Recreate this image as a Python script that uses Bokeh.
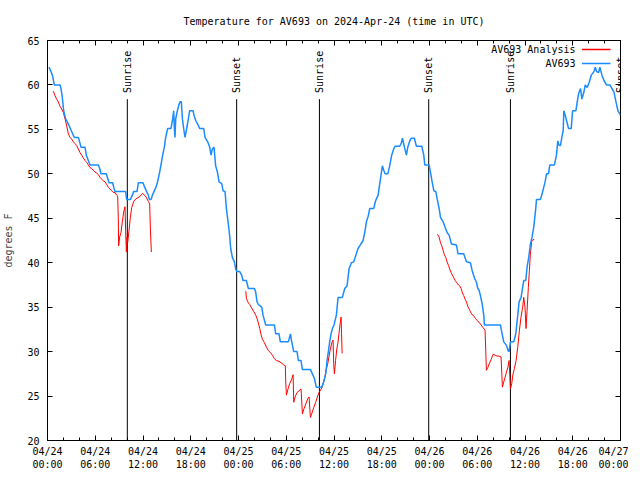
import pandas as pd
from bokeh.plotting import figure
from bokeh.core.properties import value
from bokeh.models import (ColumnDataSource, FixedTicker, DatetimeTickFormatter, DatetimeAxis,
                          LinearAxis, Range1d, LabelSet, Label, BoxAnnotation, CustomJSTickFormatter)
from bokeh.embed import file_html
from bokeh.resources import INLINE

# ---------------- data ----------------
START = pd.Timestamp("2024-04-24 00:00")
END = pd.Timestamp("2024-04-27 00:00")

# observed temperature (hours since 04/24 00:00 UTC, degrees F)
obs_hours = [0.19, 0.44, 0.61, 0.86, 1.57, 1.70, 1.86, 2.03, 2.28, 2.62, 2.87, 3.12, 3.37, 3.88, 4.04, 4.21,
             4.71, 4.88, 5.13, 5.34, 6.39, 6.56, 6.72, 7.39, 7.56, 7.73, 8.19, 8.32, 8.48, 9.82, 9.95, 10.41,
             10.66, 10.83, 11.25, 11.42, 12.00, 12.21, 12.46, 12.67, 12.80, 13.01, 13.18, 13.38, 13.63, 13.80,
             14.05, 14.26, 14.47, 14.68, 14.85, 15.10, 15.52, 15.73, 15.86, 15.94, 16.02, 16.11, 16.32, 16.49,
             16.65, 16.82, 16.95, 17.11, 17.28, 17.49, 17.70, 17.87, 18.29, 18.41, 18.62, 18.87, 19.12, 19.63,
             19.79, 20.13, 20.38, 20.55, 20.72, 20.92, 21.13, 21.35, 21.56, 21.89, 22.06, 22.31, 22.48, 22.69,
             22.85, 23.02, 23.23, 23.48, 23.65, 23.77, 24.15, 24.40, 24.57, 24.99, 25.24, 26.00, 26.16, 26.33,
             26.50, 26.92, 27.08, 27.42, 28.51, 28.68, 29.09, 29.26, 30.27, 30.52, 30.69, 30.94, 31.36, 31.52,
             31.86, 32.02, 33.03, 33.28, 33.53, 33.78, 34.46, 34.71, 34.96, 35.13, 35.29, 35.46, 35.63, 35.80,
             36.00, 36.30, 36.51, 37.05, 37.35, 37.64, 37.89, 38.18, 38.48, 38.73, 39.02, 39.31, 39.65, 39.86,
             40.07, 40.32, 40.49, 40.99, 41.24, 41.54, 41.75, 42.08, 42.25, 42.42, 42.76, 43.00, 43.25, 43.50,
             43.67, 44.26, 44.47, 44.60, 44.85, 45.10, 45.27, 45.52, 45.69, 46.10, 46.35, 47.03, 47.28, 47.41,
             47.95, 48.16, 48.33, 48.54, 48.79, 48.96, 49.21, 49.38, 49.71, 49.96, 50.21, 50.46, 50.76, 51.38,
             51.59, 52.30, 52.64, 53.14, 53.39, 53.69, 53.90, 54.07, 54.23, 54.40, 54.61, 54.82, 54.90, 56.91,
             57.08, 57.33, 57.67, 57.88, 58.00, 58.17, 58.59, 58.84, 59.09, 59.26, 59.51, 59.68, 59.85, 60.10,
             60.26, 60.47, 60.68, 60.89, 61.10, 61.35, 61.44, 61.94, 62.19, 62.36, 62.53, 62.70, 62.95, 63.12,
             63.70, 63.95, 64.12, 64.29, 64.46, 64.63, 64.80, 64.88, 65.05, 65.22, 65.47, 65.81, 65.98, 66.40,
             66.56, 66.73, 66.98, 67.15, 67.40, 67.57, 67.82, 68.07, 68.33, 68.66, 68.83, 69.00, 69.25, 69.41,
             69.67, 69.92, 70.25, 70.67, 70.92, 71.18, 71.43, 71.68, 72.00]
obs_temp = [62.0, 61.5, 61.1, 60.0, 60.0, 59.6, 58.6, 57.1, 56.2, 55.6, 55.1, 54.6, 54.1, 54.1, 53.6, 53.0,
            53.0, 52.1, 51.5, 51.0, 51.0, 50.6, 50.0, 50.0, 49.5, 49.0, 49.0, 48.5, 48.0, 48.0, 47.1, 47.1,
            47.6, 48.0, 48.0, 49.0, 49.0, 48.5, 48.0, 47.6, 47.1, 47.1, 47.6, 48.0, 48.5, 49.0,
            50.0, 51.0, 52.1, 53.0, 54.1, 55.1, 55.1, 56.2, 57.1, 55.1, 54.1, 56.2, 57.1, 57.7,
            58.1, 58.1, 56.2, 55.1, 54.1, 55.1, 56.2, 57.1, 57.1, 56.6, 56.0, 55.6, 55.1, 55.1,
            54.1, 53.6, 53.0, 52.1, 52.8, 53.0, 50.9, 50.2, 49.1, 48.9, 48.1, 48.0, 46.1, 44.6,
            43.4, 41.6, 40.6, 40.1, 39.3, 39.0, 39.0, 38.6, 38.0, 38.0, 37.1, 37.1, 36.7, 35.6,
            35.3, 35.0, 34.1, 33.0, 33.0, 32.0, 32.0, 31.1, 31.1, 32.0, 31.1, 30.0, 30.0, 29.0,
            29.0, 28.0, 28.0, 27.5, 27.0, 26.0, 26.0, 26.6, 27.5, 29.0, 30.0, 31.1, 32.0, 32.6,
            33.0, 34.1, 36.1, 36.1, 37.1, 37.4, 39.3, 40.0, 40.1, 40.8, 41.6, 42.0, 42.5, 43.4,
            44.6, 45.3, 46.1, 46.1, 47.0, 47.6, 48.9, 50.9, 50.4, 50.0, 50.0, 50.9, 52.1, 52.8,
            53.1, 53.1, 53.5, 54.0, 53.0, 52.1, 53.0, 53.7, 54.0, 54.0, 53.1, 53.1, 52.1, 51.0,
            51.0, 50.0, 49.1, 48.1, 48.0, 47.2, 46.1, 45.1, 44.6, 44.0, 43.4, 43.1, 42.1, 42.0,
            41.0, 41.0, 40.1, 40.0, 39.0, 38.2, 37.8, 37.1, 36.9, 36.3, 35.4, 34.1, 33.0, 33.0,
            32.2, 31.1, 30.7, 30.1, 30.0, 31.1, 31.1, 32.0, 34.1, 35.6, 36.1, 37.1, 38.0, 38.0,
            39.5, 40.6, 42.1, 42.9, 44.0, 46.1, 47.1, 47.1, 47.9, 48.5, 49.1, 50.0, 50.0, 51.0,
            51.0, 52.1, 53.7, 53.2, 53.2, 54.1, 54.9, 57.1, 56.6, 56.0, 55.1, 55.1, 57.1, 57.1,
            58.1, 59.0, 59.6, 58.4, 59.2, 60.0, 59.7, 60.3, 61.1, 61.5, 62.0, 61.5, 61.4, 62.0,
            61.1, 60.5, 60.0, 60.0, 59.6, 59.2, 58.1, 57.1, 56.6]

# analysis runs
ana1_hours = [0.73, 0.94, 1.15, 1.36, 1.57, 1.78, 1.99, 2.20, 2.41, 2.62, 2.83, 3.04, 3.25, 3.46, 3.66, 3.87,
              4.08, 4.29, 4.50, 4.71, 4.92, 5.13, 5.34, 5.55, 5.76, 5.97, 6.18, 6.39, 6.60, 6.81, 7.02, 7.23,
              7.43, 7.64, 7.85, 8.06, 8.27, 8.48, 8.69, 8.82, 8.90, 8.94, 9.07, 9.24, 9.40, 9.57, 9.74, 9.82,
              9.91, 9.99, 10.08, 10.24, 10.41, 10.58, 10.83, 11.12, 11.54, 11.96, 12.38, 12.67, 12.84, 12.93,
              13.05]
ana1_temp = [59.3, 58.8, 58.4, 58.1, 57.6, 57.3, 56.9, 56.2, 55.4, 54.5, 54.1, 53.9, 53.6, 53.4, 53.2, 52.8,
             52.4, 52.1, 51.8, 51.5, 51.3, 51.0, 50.7, 50.6, 50.4, 50.2, 50.1, 49.9, 49.6, 49.4, 49.2, 49.1,
             48.8, 48.5, 48.3, 48.1, 47.9, 47.9, 47.6, 47.5, 44.7, 41.9, 42.9, 43.4, 44.6, 45.7, 46.3, 43.6,
             41.2, 42.9, 42.3, 43.6, 45.1, 46.2, 46.9, 47.2, 47.4, 47.8, 47.4, 46.9, 46.6, 43.8,
             41.2]
ana2_hours = [24.91, 25.00, 25.16, 25.41, 25.66, 25.92, 26.17, 26.34, 26.50, 26.67, 26.84, 27.00, 27.26, 27.51,
              27.76, 28.01, 28.26, 28.51, 28.76, 29.09, 29.43, 29.68, 29.89, 29.93, 30.02, 30.22, 30.43, 30.69,
              30.86, 30.94, 31.11, 31.36, 31.61, 31.86, 32.03, 32.24, 32.45, 32.70, 32.87, 33.03, 33.20, 33.45,
              33.70, 33.95, 34.12, 34.46, 34.71, 34.88, 35.05, 35.21, 35.38, 35.55, 35.72, 35.88, 35.97, 36.05,
              36.20, 36.35, 36.50, 36.62, 36.75, 36.89, 36.95, 37.02]
ana2_temp = [36.8, 36.0, 35.6, 35.3, 34.9, 34.5, 34.1, 33.7, 33.2, 32.6, 31.9, 31.4, 31.0, 30.5,
             30.1, 29.9, 29.6, 29.2, 29.0, 28.9, 28.7, 28.5, 28.4, 26.7, 25.1, 25.8, 26.4, 26.9,
             27.4, 24.3, 24.9, 25.4, 25.6, 25.8, 23.0, 23.6, 24.1, 24.7, 24.9, 22.6, 23.0, 23.7,
             24.3, 25.0, 25.4, 25.9, 26.6, 27.3, 28.1, 28.6, 29.5, 30.3, 31.0, 31.3, 28.5, 27.5,
             29.0, 30.3, 31.0, 32.0, 33.0, 33.9, 32.0, 29.8]
ana3_hours = [48.99, 49.20, 49.37, 49.54, 49.71, 49.87, 50.04, 50.21, 50.38, 50.54, 50.71, 50.88, 51.05, 51.22,
              51.38, 51.64, 51.80, 51.97, 52.14, 52.30, 52.47, 52.64, 52.81, 52.98, 53.14, 53.31, 53.48, 53.65,
              53.81, 53.98, 54.23, 54.48, 54.73, 54.98, 55.07, 55.15, 55.32, 55.49, 55.74, 55.99, 56.24, 56.49,
              56.74, 56.99, 57.08, 57.16, 57.33, 57.50, 57.67, 57.84, 58.00, 58.17, 58.33, 58.50, 58.67, 58.88,
              59.09, 59.30, 59.50, 59.71, 59.84, 60.00, 60.13, 60.26, 60.42, 60.55, 60.67, 60.84, 61.00, 61.17]
ana3_temp = [43.2, 42.9, 42.3, 41.9, 41.4, 40.9, 40.6, 40.1, 39.7, 39.3, 38.9, 38.6, 38.3, 38.0,
             37.8, 37.5, 37.4, 37.1, 36.6, 36.3, 35.9, 35.6, 35.1, 34.8, 34.5, 34.2, 34.1, 33.9,
             33.7, 33.5, 33.3, 33.0, 32.7, 32.4, 30.1, 27.9, 28.2, 28.6, 29.1, 29.7, 29.6, 29.5,
             29.5, 29.4, 27.7, 26.0, 26.6, 27.1, 27.7, 28.2, 29.0, 25.8, 26.4, 27.5, 28.1, 29.0,
             30.5, 32.4, 33.9, 35.0, 36.1, 35.0, 32.6, 34.6, 37.2, 39.1, 40.9, 42.4, 42.6, 42.6]

# sunrise / sunset events (hours since start)
sun_hours = [10.03, 23.77, 34.17, 47.90, 58.17, 72.00]
sun_labels = ["Sunrise", "Sunset", "Sunrise", "Sunset", "Sunrise", "Sunset"]

y_ticks = [20, 25, 30, 35, 40, 45, 50, 55, 60, 65]
x_major_hours = list(range(0, 73, 6))
x_minor_hours = list(range(0, 73, 2))

TITLE = "Temperature for AV693 on 2024-Apr-24 (time in UTC)"
Y_LABEL = "degrees F"
SERIES_OBS = "AV693"
SERIES_ANA = "AV693 Analysis"

# ---------------- styling ----------------
FONT = "DejaVu Sans Mono"
FS = "10px"
BLUE = "#1a8cff"
RED = "#ff0000"
LABEL_Y = 59.1
LINE_TOP = 58.4


def to_time(hours):
    return START + pd.to_timedelta(pd.Series(hours, dtype=float), unit="h")


def to_ms(hours):
    return [START.value / 1e6 + h * 3600000.0 for h in hours]


p = figure(width=628, height=472, output_backend="svg", toolbar_location=None,
           x_axis_type="datetime",
           x_range=Range1d(START, END), y_range=Range1d(20, 65),
           min_border_left=39, min_border_right=8, min_border_top=40, min_border_bottom=32)
p.background_fill_color = "white"
p.border_fill_color = "white"
p.outline_line_color = "black"
p.outline_line_width = 1
p.xgrid.visible = False
p.ygrid.visible = False

p.title.text = TITLE
p.title.align = "center"
p.title.text_font = FONT
p.title.text_font_size = FS
p.title.text_font_style = "normal"
p.title.text_color = "black"
p.title.standoff = 27

xticker = FixedTicker(ticks=to_ms(x_major_hours), minor_ticks=to_ms(x_minor_hours))
fmt = "%m/%d\n%H:%M"
xfmt = DatetimeTickFormatter(microseconds=fmt, milliseconds=fmt, seconds=fmt, minsec=fmt,
                             minutes=fmt, hourmin=fmt, hours=fmt, days=fmt, months=fmt, years=fmt)
yticker = FixedTicker(ticks=y_ticks)
blank = CustomJSTickFormatter(code="return ''")


def style_axis(ax):
    ax.axis_line_color = None
    ax.major_tick_in = 5
    ax.major_tick_out = 0
    ax.minor_tick_in = 3
    ax.minor_tick_out = 0
    ax.major_tick_line_color = "black"
    ax.minor_tick_line_color = "black"
    ax.major_label_text_font = FONT
    ax.major_label_text_font_size = FS
    ax.major_label_text_color = "black"


xa = p.xaxis[0]
xa.ticker = xticker
xa.formatter = xfmt
style_axis(xa)
xa.major_label_standoff = 5

ya = p.yaxis[0]
ya.ticker = yticker
style_axis(ya)
ya.minor_tick_in = 0
ya.major_label_standoff = 8
ya.axis_label = Y_LABEL
ya.axis_label_text_font = FONT
ya.axis_label_text_font_size = FS
ya.axis_label_text_font_style = "normal"
ya.axis_label_standoff = 10

top = DatetimeAxis(ticker=xticker, formatter=blank)
style_axis(top)
top.major_label_standoff = 0
p.add_layout(top, "above")
right = LinearAxis(ticker=yticker, formatter=blank)
style_axis(right)
right.major_label_standoff = 0
right.minor_tick_in = 0
p.add_layout(right, "right")

# sunrise / sunset markers
sun_src = ColumnDataSource(dict(t=to_time(sun_hours), label=sun_labels))
p.segment(x0="t", y0=20, x1="t", y1=LINE_TOP, source=sun_src, line_color="black", line_width=1)
p.add_layout(LabelSet(x="t", y=LABEL_Y, text="label", source=sun_src, angle=90, angle_units="deg",
                      text_align="left", text_baseline="middle", text_font=value(FONT),
                      text_font_size=value(FS), text_color="black"))

# analysis runs
for hrs, tmp in [(ana1_hours, ana1_temp), (ana2_hours, ana2_temp), (ana3_hours, ana3_temp)]:
    p.line(to_time(hrs), tmp, line_color=RED, line_width=1)

# observations
p.line(to_time(obs_hours), obs_temp, line_color=BLUE, line_width=1.5)

# key (label left of the sample line, gnuplot style)
for text, color, yoff in [(SERIES_ANA, RED, 9), (SERIES_OBS, BLUE, 23)]:
    p.add_layout(Label(x=528, y=400 - yoff, x_units="screen", y_units="screen", text=text,
                       text_align="right", text_baseline="middle", text_font=FONT,
                       text_font_size=FS, text_color="black"))
    p.add_layout(BoxAnnotation(left=534.5, right=563, top=400 - yoff + 0.75, bottom=400 - yoff - 0.75,
                               left_units="screen", right_units="screen", top_units="screen",
                               bottom_units="screen", fill_color=color, fill_alpha=1,
                               line_color=None))

open("out.html", "w").write(file_html(p, INLINE))
